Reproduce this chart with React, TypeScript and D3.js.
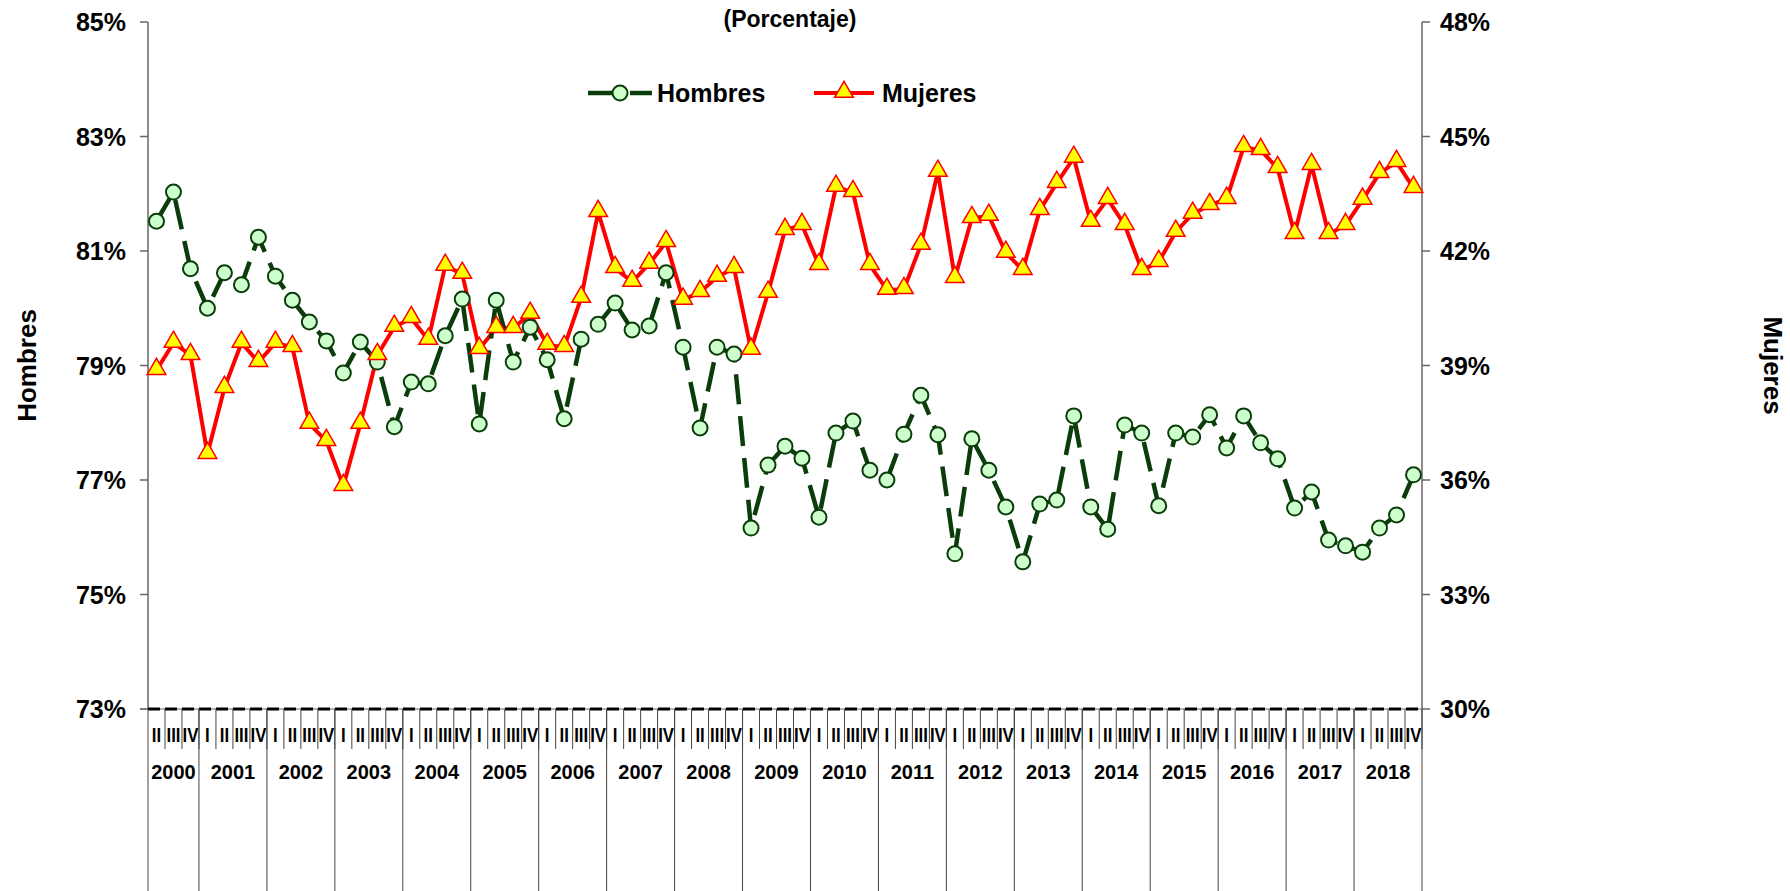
import React from "react";
import * as d3 from "d3";

const years = ["2000","2001","2002","2003","2004","2005","2006","2007","2008","2009","2010","2011","2012","2013","2014","2015","2016","2017","2018"];
const quarterNames = ["I","II","III","IV"];
const hombres = [81.52,82.03,80.69,80.0,80.62,80.41,81.24,80.56,80.14,79.76,79.43,78.87,79.41,79.06,77.93,78.71,78.68,79.52,80.16,77.98,80.14,79.06,79.67,79.1,78.07,79.46,79.72,80.09,79.62,79.69,80.62,79.32,77.91,79.32,79.2,76.16,77.26,77.59,77.38,76.35,77.82,78.03,77.17,77.0,77.8,78.48,77.79,75.71,77.72,77.17,76.53,75.57,76.58,76.65,78.12,76.53,76.14,77.96,77.82,76.55,77.82,77.75,78.14,77.56,78.12,77.65,77.37,76.51,76.79,75.95,75.85,75.74,76.16,76.39,77.09];
const mujeres = [38.88,39.59,39.27,36.68,38.41,39.59,39.09,39.59,39.48,37.47,37.02,35.84,37.47,39.27,40.01,40.24,39.67,41.61,41.4,39.43,39.98,39.98,40.35,39.54,39.48,40.77,43.02,41.55,41.19,41.66,42.23,40.72,40.92,41.32,41.55,39.41,40.9,42.55,42.68,41.63,43.68,43.54,41.63,40.98,41.0,42.16,44.07,41.29,42.86,42.92,41.95,41.5,43.07,43.78,44.44,42.76,43.36,42.68,41.5,41.71,42.5,42.97,43.2,43.36,44.72,44.64,44.17,42.44,44.25,42.44,42.68,43.34,44.04,44.33,43.65];
const leftTicks = [73,75,77,79,81,83,85];
const rightTicks = [30,33,36,39,42,45,48];

// categories: 2000 Q2 .. 2018 Q4
const cats: { y: string; q: number }[] = [];
years.forEach((y, yi) => quarterNames.forEach((_, qi) => { if (!(yi === 0 && qi === 0)) cats.push({ y, q: qi }); }));

export default function App() {
  const W = 1790, H = 891;
  const L = 148, R = 1422, T = 22, B = 709;
  const x = d3.scaleBand<number>().domain(d3.range(cats.length)).range([L, R]);
  const cx = (i: number) => (x(i) as number) + x.bandwidth() / 2;
  const yl = d3.scaleLinear().domain([73, 85]).range([B, T]);
  const yr = d3.scaleLinear().domain([30, 48]).range([B, T]);
  const lineH = d3.line<number>().x((_, i) => cx(i)).y(d => yl(d));
  const lineM = d3.line<number>().x((_, i) => cx(i)).y(d => yr(d));
  const font = "Arial, 'Liberation Sans', sans-serif";
  const green = "#0b3d0b";
  const tri = d3.symbol().type(d3.symbolTriangle).size(150)() as string;
  const bw = x.bandwidth();
  const yearGroups = years.map((y) => {
    const idx = cats.map((c, i) => (c.y === y ? i : -1)).filter(i => i >= 0);
    return { y, x0: x(idx[0]) as number, x1: (x(idx[idx.length - 1]) as number) + bw };
  });
  return (
    <svg width={W} height={H} style={{ position: "absolute", left: 0, top: 0, fontFamily: font }}>
      <text x={790} y={27} textAnchor="middle" fontSize={23} fontWeight="bold">(Porcentaje)</text>
      <line x1={L} x2={L} y1={T} y2={B} stroke="#666" strokeWidth={1.5} />
      {leftTicks.map(t => (
        <g key={"l" + t}>
          <line x1={L - 8} x2={L} y1={yl(t)} y2={yl(t)} stroke="#666" strokeWidth={1.5} />
          <text x={L - 22} y={yl(t) + 9} textAnchor="end" fontSize={25} fontWeight="bold">{t}%</text>
        </g>
      ))}
      <line x1={R} x2={R} y1={T} y2={B} stroke="#666" strokeWidth={1.5} />
      {rightTicks.map(t => (
        <g key={"r" + t}>
          <line x1={R} x2={R + 8} y1={yr(t)} y2={yr(t)} stroke="#666" strokeWidth={1.5} />
          <text x={R + 18} y={yr(t) + 9} textAnchor="start" fontSize={25} fontWeight="bold">{t}%</text>
        </g>
      ))}
      <text transform={`translate(36,${(T + B) / 2}) rotate(-90)`} textAnchor="middle" fontSize={26} fontWeight="bold">Hombres</text>
      <text transform={`translate(1764,${(T + B) / 2}) rotate(90)`} textAnchor="middle" fontSize={26} fontWeight="bold">Mujeres</text>
      <line x1={L - 8} x2={R} y1={B} y2={B} stroke="#666" strokeWidth={1} />
      <line x1={L} x2={R} y1={B} y2={B} stroke="#000" strokeWidth={3} strokeDasharray="12,5" />
      {cats.map((c, i) => (
        <g key={"q" + i}>
          <line x1={(x(i) as number) + bw} x2={(x(i) as number) + bw} y1={B} y2={B + 40} stroke="#444" strokeWidth={1} />
          <text x={cx(i)} y={B + 33} textAnchor="middle" fontSize={21} fontWeight="bold" transform={`translate(${cx(i)},0) scale(0.8,1) translate(${-cx(i)},0)`}>{quarterNames[c.q]}</text>
        </g>
      ))}
      {yearGroups.map(g => (
        <g key={g.y}>
          <line x1={g.x1} x2={g.x1} y1={B} y2={891} stroke="#444" strokeWidth={1} />
          <text x={(g.x0 + g.x1) / 2} y={B + 70} textAnchor="middle" fontSize={20} fontWeight="bold">{g.y}</text>
        </g>
      ))}
      <line x1={L} x2={L} y1={B} y2={891} stroke="#444" strokeWidth={1} />
      <path d={lineM(mujeres) as string} fill="none" stroke="#ff0000" strokeWidth={4} strokeLinejoin="round" />
      <path d={lineH(hombres) as string} fill="none" stroke={green} strokeWidth={4.5} strokeDasharray="30,12" />
      {hombres.map((v, i) => (
        <circle key={"h" + i} cx={cx(i)} cy={yl(v)} r={7.5} fill="#ccffcc" stroke={green} strokeWidth={2} />
      ))}
      {mujeres.map((v, i) => (
        <path key={"m" + i} d={tri} transform={`translate(${cx(i)},${yr(v) - 1})`} fill="#ffff00" stroke="#ff0000" strokeWidth={1.5} />
      ))}
      <line x1={588} x2={652} y1={93} y2={93} stroke={green} strokeWidth={4.5} strokeDasharray="30,12" />
      <circle cx={620} cy={93} r={7.5} fill="#ccffcc" stroke={green} strokeWidth={2} />
      <text x={657} y={102} fontSize={25} fontWeight="bold">Hombres</text>
      <line x1={814} x2={874} y1={93} y2={93} stroke="#ff0000" strokeWidth={4} />
      <path d={tri} transform="translate(844,92)" fill="#ffff00" stroke="#ff0000" strokeWidth={1.5} />
      <text x={882} y={102} fontSize={25} fontWeight="bold">Mujeres</text>
    </svg>
  );
}
